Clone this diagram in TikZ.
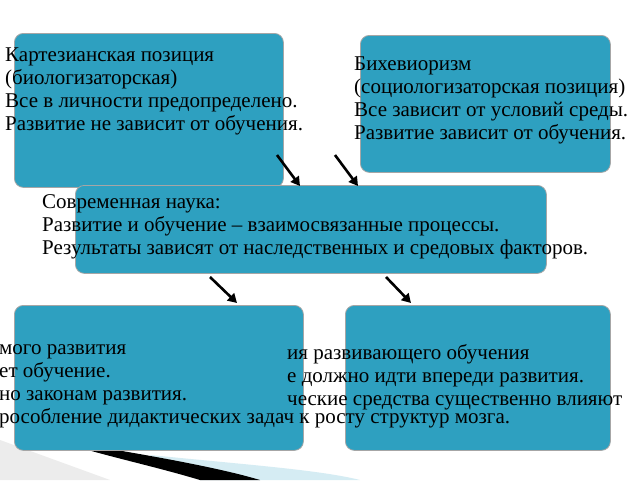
\documentclass[tikz,border=0pt]{standalone}
\usepackage{fontspec}
\setmainfont{Liberation Serif}
\usetikzlibrary{arrows.meta}
\definecolor{boxc}{HTML}{2EA0C0}
\begin{document}
\begin{tikzpicture}[x=1pt,y=-1pt,
  box/.style={draw=gray!70,line width=0.8pt,fill=boxc,rounded corners=9pt},
  txt/.style={font=\fontsize{21}{23}\selectfont,align=left,inner sep=0pt},
  arr/.style={line width=2.6pt,-{Triangle[length=9pt,width=10pt]}}]
\useasboundingbox (0,0) rectangle (640,480);
\clip (0,0) rectangle (640,480);
\fill[white] (0,0) rectangle (640,480);
% swoosh
\fill[gray!15] (0,440) -- (110,480) -- (0,480) -- cycle;
\fill[boxc!20] (150,455) .. controls (250,465) and (320,470) .. (360,480) -- (200,480) -- cycle;
\fill[black] (55,440) .. controls (150,455) and (220,468) .. (260,480) -- (200,480) .. controls (150,465) and (100,455) .. (55,440);
\node[box,minimum width=269pt,minimum height=154pt,anchor=north west] (b1) at (14,33) {};
\node[box,minimum width=250pt,minimum height=137pt,anchor=north west] (b2) at (360,35) {};
\node[box,minimum width=471pt,minimum height=88pt,anchor=north west] (b3) at (75,185) {};
\node[box,minimum width=289pt,minimum height=145pt,anchor=north west] (b4) at (14,305) {};
\node[box,minimum width=265pt,minimum height=145pt,anchor=north west] (b5) at (345,305) {};
\coordinate (a1) at (277,155); \coordinate (a2) at (335,155);
\coordinate (a3) at (210,277); \coordinate (a4) at (386,277);
\draw[arr] (a1) -- (300,186);
\draw[arr] (a2) -- (358,186);
\draw[arr] (a3) -- (237,303);
\draw[arr] (a4) -- (411,303);
\node[txt,anchor=north west] (t1) at (5,48) {Картезианская позиция\\(биологизаторская)\\Все в личности предопределено.\\Развитие не зависит от обучения.};
\node[txt,anchor=north west] (t2) at (354,57) {Бихевиоризм\\(социологизаторская позиция)\\Все зависит от условий среды.\\Развитие зависит от обучения.};
\node[txt,anchor=north west] (t3) at (42,194) {Современная наука:\\Развитие и обучение – взаимосвязанные процессы.\\Результаты зависят от наследственных и средовых факторов.};
\node[txt,anchor=north west] (t4) at (-1,344) {мого развития\\ет обучение.\\но законам развития.\\рособление дидактических задач к росту структур мозга.};
\node[txt,anchor=north west] (t5) at (287,344) {ия развивающего обучения\\е должно идти впереди развития.\\ческие средства существенно влияют};
\end{tikzpicture}
\end{document}
